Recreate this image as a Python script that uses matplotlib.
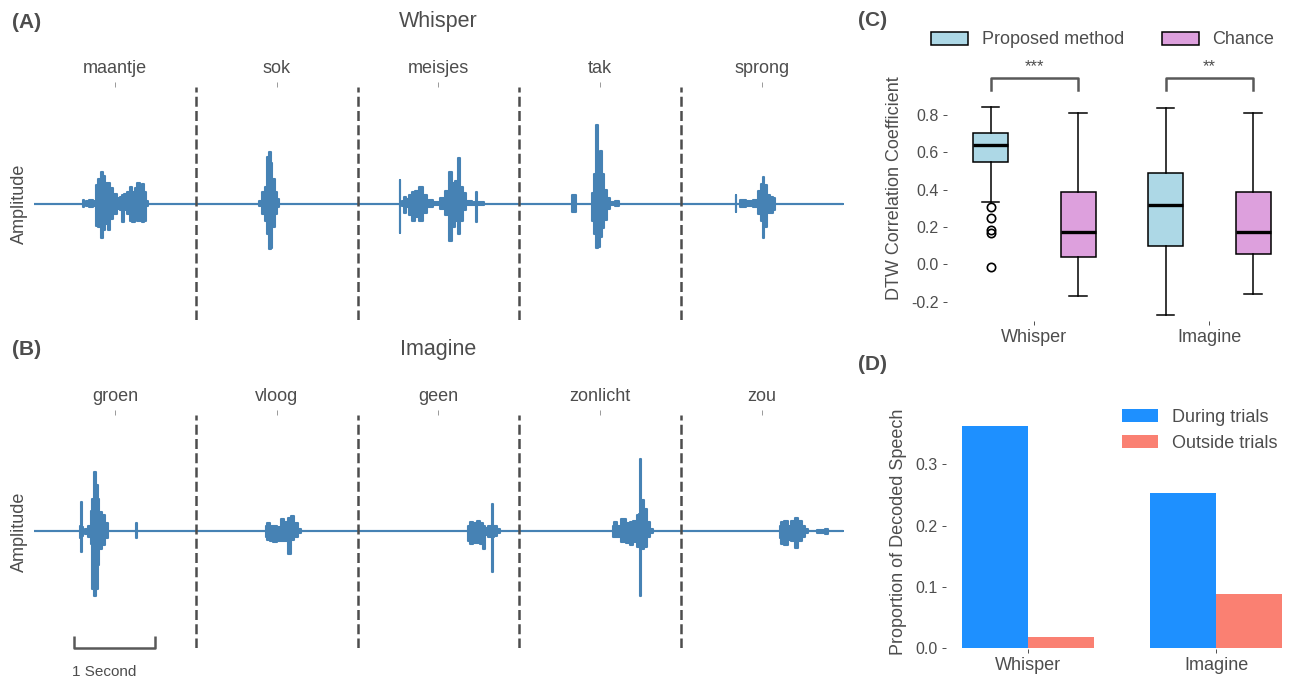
import numpy as np
import matplotlib
matplotlib.use('Agg')
import matplotlib.pyplot as plt
from matplotlib.patches import Patch

plt.rcParams['font.family'] = ['Liberation Sans', 'DejaVu Sans']

TXT = '#4D4D4D'
WAVE = '#4682B4'

#----------------------------------------------------------------
# data
#----------------------------------------------------------------
whisper_words = ['maantje', 'sok', 'meisjes', 'tak', 'sprong']
imagine_words = ['groen', 'vloog', 'geen', 'zonlicht', 'zou']

# waveform envelopes (time in s, amplitude upper / lower)
whisper_t = [0.00, 0.600, 0.610, 0.630, 0.650, 0.700, 0.766, 0.775, 0.816, 0.845,
             0.865, 0.898, 0.927, 0.960, 1.001, 1.043, 1.075, 1.104, 1.125, 1.166,
             1.195, 1.228, 1.261, 1.290, 1.319, 1.343, 1.372, 1.393, 1.413,
             2.780, 2.794, 2.843, 2.876, 2.896, 2.917, 2.938, 2.958, 2.991, 3.020, 3.049,
             4.515, 4.524, 4.535, 4.557, 4.586, 4.615, 4.648, 4.689, 4.730, 4.792,
             4.833, 4.895, 4.978, 5.059, 5.101, 5.150, 5.183, 5.224, 5.257, 5.286,
             5.315, 5.369, 5.462, 5.472, 5.482, 5.534, 5.595,
             6.640, 6.660, 6.690, 6.710, 6.895, 6.906, 6.934, 6.963, 6.980, 7.005,
             7.029, 7.058, 7.099, 7.141, 7.223, 7.250,
             8.667, 8.677, 8.687, 8.768, 8.830, 8.941, 8.966, 9.003, 9.019, 9.040,
             9.077, 9.118, 9.147, 9.180, 10.00]
whisper_hi = [0, 0, 0.03, 0.01, 0.02, 0.03, 0.02, 0.16, 0.21, 0.27,
              0.24, 0.18, 0.18, 0.13, 0.08, 0.05, 0.06, 0.07, 0.08, 0.10,
              0.14, 0.10, 0.13, 0.18, 0.16, 0.17, 0.10, 0.02, 0,
              0, 0.02, 0.10, 0.14, 0.40, 0.44, 0.35, 0.21, 0.10, 0.04, 0,
              0, 0.20, 0.01, 0.02, 0.06, 0.04, 0.07, 0.10, 0.11, 0.14,
              0.07, 0.03, 0.01, 0.05, 0.11, 0.27, 0.18, 0.19, 0.39, 0.14,
              0.09, 0.02, 0.01, 0.10, 0.01, 0.01, 0,
              0, 0.07, 0.07, 0, 0, 0.09, 0.25, 0.67, 0.40, 0.45,
              0.25, 0.12, 0.05, 0.01, 0.02, 0,
              0, 0.07, 0, 0.03, 0.02, 0.03, 0.11, 0.17, 0.23, 0.16,
              0.07, 0.06, 0.05, 0, 0]
whisper_lo = [0, 0, -0.03, -0.01, -0.02, -0.03, -0.02, -0.19, -0.20, -0.30,
              -0.23, -0.18, -0.23, -0.13, -0.09, -0.05, -0.06, -0.16, -0.06, -0.09,
              -0.15, -0.16, -0.11, -0.15, -0.15, -0.16, -0.15, -0.02, 0,
              0, -0.02, -0.09, -0.15, -0.26, -0.39, -0.38, -0.20, -0.09, -0.03, 0,
              0, -0.25, -0.01, -0.02, -0.08, -0.03, -0.10, -0.15, -0.12, -0.15,
              -0.08, -0.03, -0.01, -0.05, -0.10, -0.32, -0.20, -0.15, -0.26, -0.15,
              -0.06, -0.01, -0.01, -0.16, -0.01, -0.01, 0,
              0, -0.07, -0.07, 0, 0, -0.15, -0.26, -0.38, -0.37, -0.29,
              -0.21, -0.14, -0.05, -0.01, -0.02, 0,
              0, -0.07, 0, -0.03, -0.02, -0.03, -0.09, -0.15, -0.30, -0.20,
              -0.08, -0.08, -0.06, 0, 0]

imagine_t = [0.00, 0.560, 0.569, 0.589, 0.605, 0.618, 0.651, 0.684, 0.713, 0.733,
             0.758, 0.775, 0.795, 0.824, 0.865, 0.898, 0.931, 1.252, 1.269, 1.286,
             2.860, 2.868, 2.896, 2.938, 2.979, 3.020, 3.074, 3.115, 3.156, 3.197,
             3.239, 3.280, 3.309,
             5.360, 5.369, 5.410, 5.451, 5.492, 5.534, 5.562, 5.595, 5.637, 5.660,
             5.670, 5.680, 5.698, 5.739, 5.781,
             7.150, 7.161, 7.182, 7.223, 7.284, 7.346, 7.387, 7.429, 7.470, 7.485,
             7.495, 7.505, 7.515, 7.553, 7.594, 7.635, 7.676,
             9.210, 9.221, 9.254, 9.296, 9.337, 9.378, 9.427, 9.469, 9.510, 9.551,
             9.592, 9.765, 9.798, 9.830, 10.00]
imagine_hi = [0, 0, 0.05, 0.25, 0.04, 0.01, 0.02, 0.05, 0.18, 0.28,
              0.51, 0.40, 0.28, 0.17, 0.14, 0.07, 0, 0, 0.07, 0,
              0, 0.05, 0.07, 0.05, 0.05, 0.04, 0.11, 0.08, 0.12, 0.13,
              0.07, 0.02, 0,
              0, 0.05, 0.08, 0.07, 0.09, 0.07, 0.05, 0.03, 0.05, 0.03,
              0.24, 0.05, 0.05, 0.02, 0,
              0, 0.05, 0.08, 0.05, 0.11, 0.07, 0.08, 0.09, 0.14, 0.15,
              0.62, 0.27, 0.27, 0.19, 0.08, 0.02, 0,
              0, 0.05, 0.08, 0.09, 0.05, 0.09, 0.12, 0.09, 0.05, 0.02,
              0, 0.01, 0.02, 0, 0]
imagine_lo = [0, 0, -0.06, -0.18, -0.04, -0.01, -0.02, -0.05, -0.11, -0.49,
              -0.55, -0.49, -0.29, -0.15, -0.12, -0.06, 0, 0, -0.06, 0,
              0, -0.05, -0.07, -0.08, -0.09, -0.08, -0.08, -0.08, -0.19, -0.07,
              -0.05, -0.01, 0,
              0, -0.08, -0.11, -0.10, -0.10, -0.11, -0.15, -0.03, -0.05, -0.03,
              -0.35, -0.05, -0.04, -0.01, 0,
              0, -0.05, -0.05, -0.05, -0.09, -0.10, -0.12, -0.09, -0.13, -0.13,
              -0.55, -0.15, -0.15, -0.13, -0.05, -0.01, 0,
              0, -0.06, -0.11, -0.12, -0.07, -0.08, -0.14, -0.08, -0.05, -0.01,
              0, -0.01, -0.02, 0, 0]

# boxplot summary (DTW correlation)
groups = ['Whisper', 'Imagine']
prop_q1 = [0.547, 0.098]
prop_med = [0.639, 0.320]
prop_q3 = [0.702, 0.488]
prop_lo = [0.332, -0.273]
prop_hi = [0.845, 0.836]
prop_out = [[0.305, 0.247, 0.184, 0.170, -0.014], []]
chance_q1 = [0.038, 0.055]
chance_med = [0.172, 0.175]
chance_q3 = [0.388, 0.388]
chance_lo = [-0.171, -0.160]
chance_hi = [0.809, 0.809]
sig_labels = ['***', '**']

# proportion of decoded speech
during = [0.3625, 0.2534]
outside = [0.018, 0.0884]


W, H = 1289, 680
fig = plt.figure(figsize=(W / 100, H / 100), dpi=100)


def px_rect(l, t, r, b):
    return [l / W, 1 - b / H, (r - l) / W, (b - t) / H]


#----------------------------------------------------------------
# waveform panels
#----------------------------------------------------------------
def wave_panel(rect, t, hi, lo, words, title, letter, scalebar=False):
    ax = fig.add_axes(rect)
    ax.fill_between(t, lo, hi, color=WAVE, edgecolor=WAVE, lw=1.5, step='mid')
    ax.vlines(t, lo, hi, color=WAVE, lw=1.2)
    for b in range(1, len(words)):
        ax.axvline(2 * b, color=TXT, lw=1.8, ls=(0, (4, 1.7)))
    ax.set_xlim(0, 10)
    ax.set_ylim(-1, 1)
    for s in ax.spines.values():
        s.set_visible(False)
    ax.set_yticks([])
    ax.set_ylabel('Amplitude', fontsize=13, color=TXT, labelpad=4)
    ax.set_xticks([2 * i + 1 for i in range(len(words))])
    ax.set_xticklabels(words)
    ax.tick_params(axis='x', top=True, labeltop=True, bottom=False, labelbottom=False,
                   length=3.5, width=0.7, color='#999999', labelsize=13,
                   labelcolor=TXT, pad=3.5)
    pos = ax.get_position()
    fig.text(pos.x0 + pos.width / 2, pos.y1 + 65 / H, title, ha='center', va='center',
             fontsize=15.5, color=TXT)
    fig.text(12 / W, pos.y1 + 65 / H, letter, ha='left', va='center',
             fontsize=15, fontweight='bold', color=TXT)
    if scalebar:
        x0, x1 = 0.49, 1.49
        ax.plot([x0, x0, x1, x1], [-0.9, -1, -1, -0.9], color='#595959', lw=1.8,
                clip_on=False, solid_capstyle='butt')
        ax.text(x0 - 0.02, -1.21, '1 Second', ha='left', va='center', fontsize=11,
                color=TXT)
    return ax


wave_panel(px_rect(34, 87, 843, 320), whisper_t, whisper_hi, whisper_lo,
           whisper_words, 'Whisper', '(A)')
wave_panel(px_rect(34, 415, 843, 648), imagine_t, imagine_hi, imagine_lo,
           imagine_words, 'Imagine', '(B)', scalebar=True)


#----------------------------------------------------------------
# (C) boxplot
#----------------------------------------------------------------
axc = fig.add_axes(px_rect(947, 55, 1288, 321))
pos = np.arange(1, len(groups) + 1)
stats, positions, colors = [], [], []
for i in range(len(groups)):
    stats.append(dict(med=prop_med[i], q1=prop_q1[i], q3=prop_q3[i],
                      whislo=prop_lo[i], whishi=prop_hi[i], fliers=prop_out[i]))
    positions.append(pos[i] - 0.25)
    colors.append('#ADD8E6')
    stats.append(dict(med=chance_med[i], q1=chance_q1[i], q3=chance_q3[i],
                      whislo=chance_lo[i], whishi=chance_hi[i], fliers=[]))
    positions.append(pos[i] + 0.25)
    colors.append('#DDA0DD')

bp = axc.bxp(stats, positions=positions, widths=0.2, patch_artist=True,
             boxprops=dict(edgecolor='black', lw=1.1),
             medianprops=dict(color='black', lw=2.4),
             whiskerprops=dict(color='black', lw=1.1),
             capprops=dict(color='black', lw=1.1), capwidths=0.1,
             flierprops=dict(marker='o', markerfacecolor='none',
                             markeredgecolor='black', markersize=6, mew=1.2))
for patch, c in zip(bp['boxes'], colors):
    patch.set_facecolor(c)

for i, lab in enumerate(sig_labels):
    axc.plot([pos[i] - 0.25, pos[i] - 0.25, pos[i] + 0.25, pos[i] + 0.25],
             [0.934, 1.0, 1.0, 0.934], color='#595959', lw=1.8)
    axc.text(pos[i], 1.018, lab, ha='center', va='bottom', fontsize=12, color=TXT)

axc.set_xlim(0.5, 2.45)
axc.set_ylim(-0.3034, 1.1214)
axc.set_yticks([-0.2, 0.0, 0.2, 0.4, 0.6, 0.8])
axc.set_yticklabels(['-0.2', '0.0', '0.2', '0.4', '0.6', '0.8'])
axc.set_xticks(pos)
axc.set_xticklabels(groups)
axc.tick_params(axis='y', length=3, width=0.7, color=TXT, labelsize=11.5,
                labelcolor=TXT, pad=3)
axc.tick_params(axis='x', length=3, width=0.7, color=TXT, labelsize=13,
                labelcolor=TXT, pad=3)
for s in axc.spines.values():
    s.set_visible(False)
axc.set_ylabel('DTW Correlation Coefficient', fontsize=13, color=TXT, labelpad=6)

handles = [Patch(facecolor='#ADD8E6', edgecolor='black', lw=1.1, label='Proposed method'),
           Patch(facecolor='#DDA0DD', edgecolor='black', lw=1.1, label='Chance')]
fig.legend(handles=handles, loc='center left', bbox_to_anchor=(922 / W, 1 - 40 / H),
           ncol=2, frameon=False, fontsize=13, handlelength=2.05, handleheight=0.72,
           handletextpad=0.75, columnspacing=2.1, borderpad=0, labelcolor=TXT)
fig.text(858 / W, 1 - 21 / H, '(C)', ha='left', va='center', fontsize=15,
         fontweight='bold', color=TXT)


#----------------------------------------------------------------
# (D) bar chart
#----------------------------------------------------------------
axd = fig.add_axes(px_rect(946, 415, 1284, 649))
bw = 0.35
axd.bar(pos - bw / 2, during, bw, color='#1E90FF', label='During trials')
axd.bar(pos + bw / 2, outside, bw, color='#FA8072', label='Outside trials')
axd.set_xlim(0.565, 2.36)
axd.set_ylim(-0.0011, 0.38)
axd.set_yticks([0.0, 0.1, 0.2, 0.3])
axd.set_yticklabels(['0.0', '0.1', '0.2', '0.3'])
axd.set_xticks(pos)
axd.set_xticklabels(groups)
axd.tick_params(axis='y', length=3, width=0.7, color=TXT, labelsize=11.5,
                labelcolor=TXT, pad=3)
axd.tick_params(axis='x', length=3, width=0.7, color=TXT, labelsize=13,
                labelcolor=TXT, pad=3)
for s in axd.spines.values():
    s.set_visible(False)
axd.set_ylabel('Proportion of Decoded Speech', fontsize=13, color=TXT, labelpad=6)
fig.legend(loc='upper left', bbox_to_anchor=(1113 / W, 1 - 400 / H), frameon=False,
           fontsize=13, handlelength=2.0, handleheight=0.7, handletextpad=0.74,
           labelspacing=0.5, borderpad=0, labelcolor=TXT)
fig.text(858 / W, 1 - 364 / H, '(D)', ha='left', va='center', fontsize=15,
         fontweight='bold', color=TXT)

fig.savefig('out.png', dpi=100)
